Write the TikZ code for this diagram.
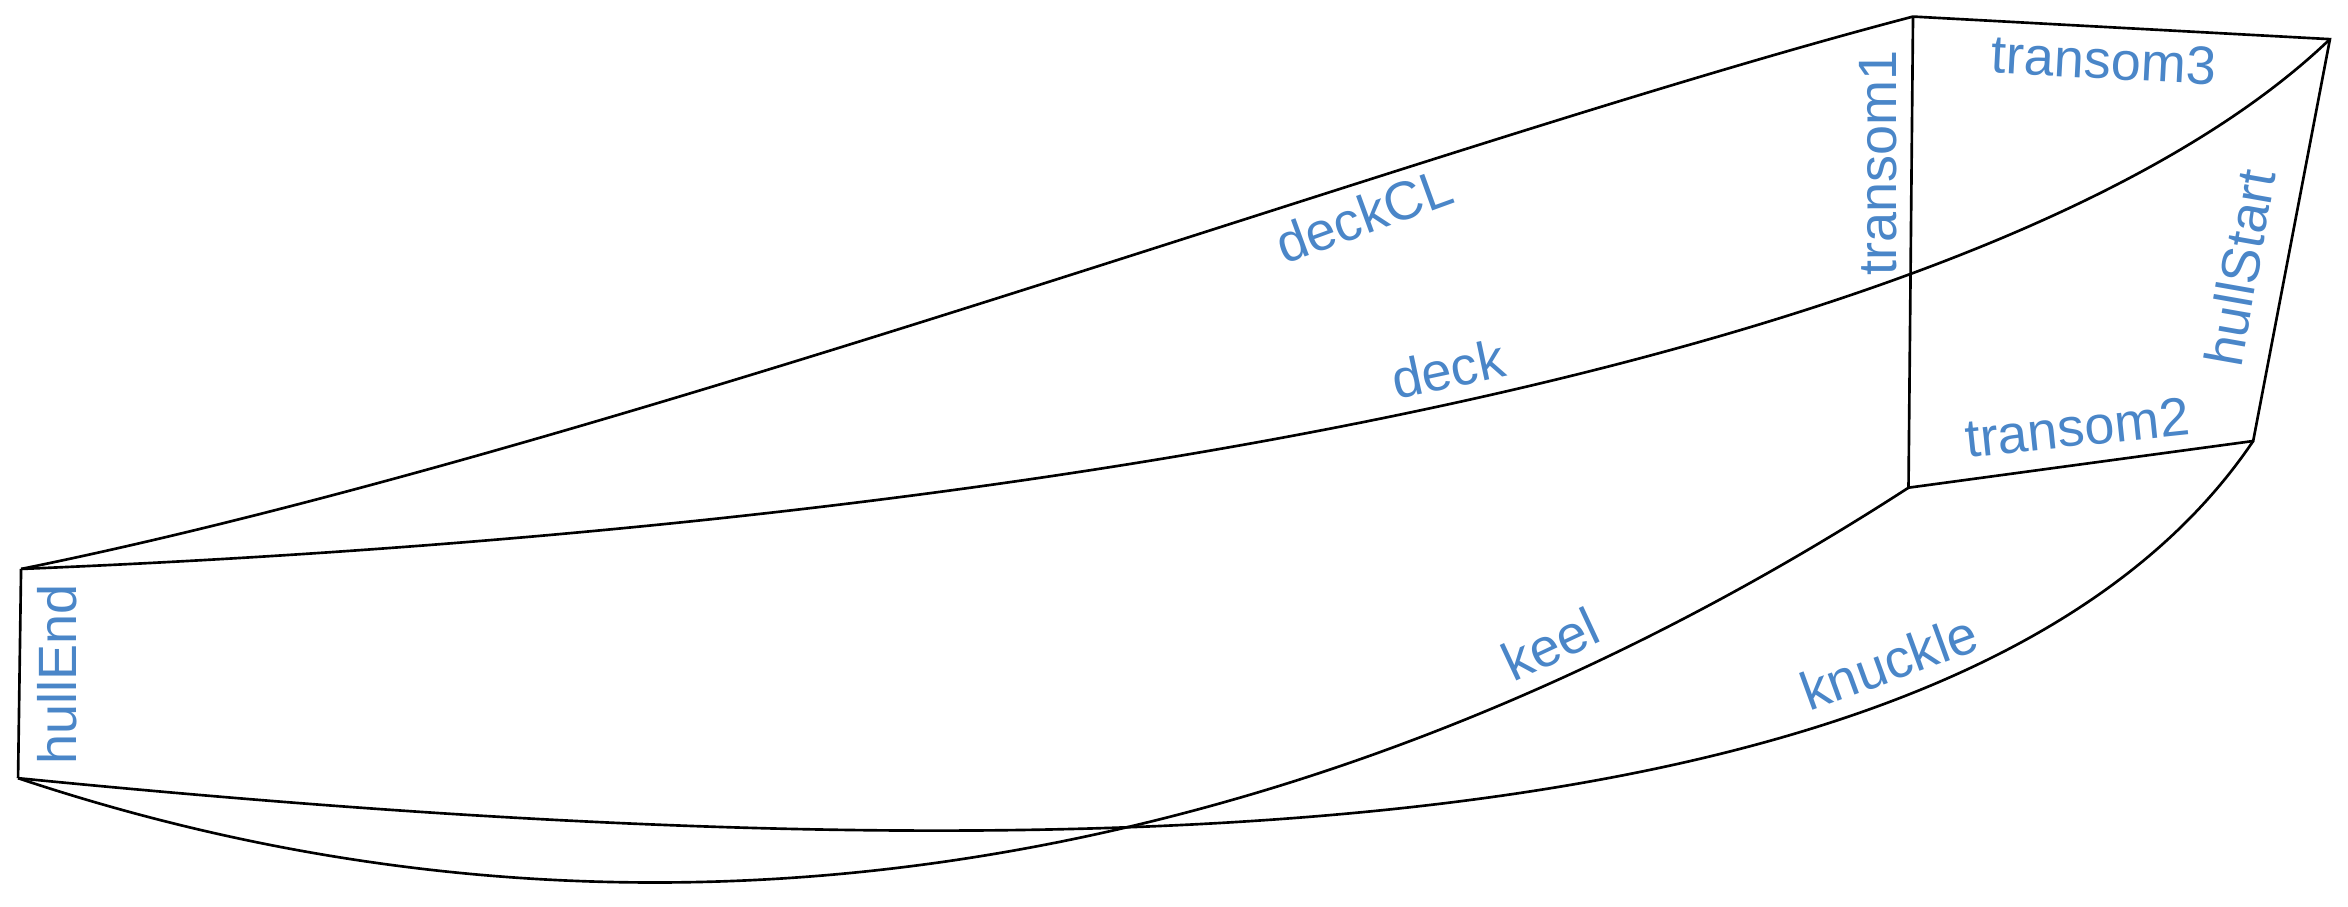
\documentclass[tikz,border=0pt]{standalone}
\usepackage{fontspec}
\setmainfont{Liberation Sans}
\definecolor{lab}{HTML}{4A86C8}
\begin{document}
\begin{tikzpicture}[x=0.01cm,y=-0.01cm,
  edge/.style={line width=0.5pt,black},
  lbl/.style={text=lab,font=\fontsize{10.2}{12}\selectfont,inner sep=0pt}]
\useasboundingbox (0,0) rectangle (1560,602);
\coordinate (A) at (1271,11);
\coordinate (B) at (1548,26);
\coordinate (C) at (1268,324);
\coordinate (D) at (1497,293);
\coordinate (E) at (14,378);
\coordinate (F) at (12,517);
\draw[edge] (E) .. controls (400,300) and (950,95) .. (A);
\draw[edge] (E) .. controls (700,350) and (1330,235) .. (B);
\draw[edge] (C) .. controls (880,575) and (440,660) .. (F);
\draw[edge] (D) .. controls (1300,585) and (650,580) .. (F);
\draw[edge] (A) -- (C) -- (D) -- (B) -- (A);
\draw[edge] (E) -- (F);
\node[lbl,rotate=20] (l1) at (906,143) {deckCL};
\node[lbl,rotate=12] (l2) at (962,245) {deck};
\node[lbl,rotate=90] (l3) at (1248,108) {transom1};
\node[lbl,rotate=-3] (l4) at (1398,40) {transom3};
\node[lbl,rotate=80] (l5) at (1488,178) {hullStart};
\node[lbl,rotate=6] (l6) at (1380,284) {transom2};
\node[lbl,rotate=25] (l7) at (1030,428) {keel};
\node[lbl,rotate=20] (l8) at (1255,440) {knuckle};
\node[lbl,rotate=90] (l9) at (38,448) {hullEnd};
\end{tikzpicture}
\end{document}
